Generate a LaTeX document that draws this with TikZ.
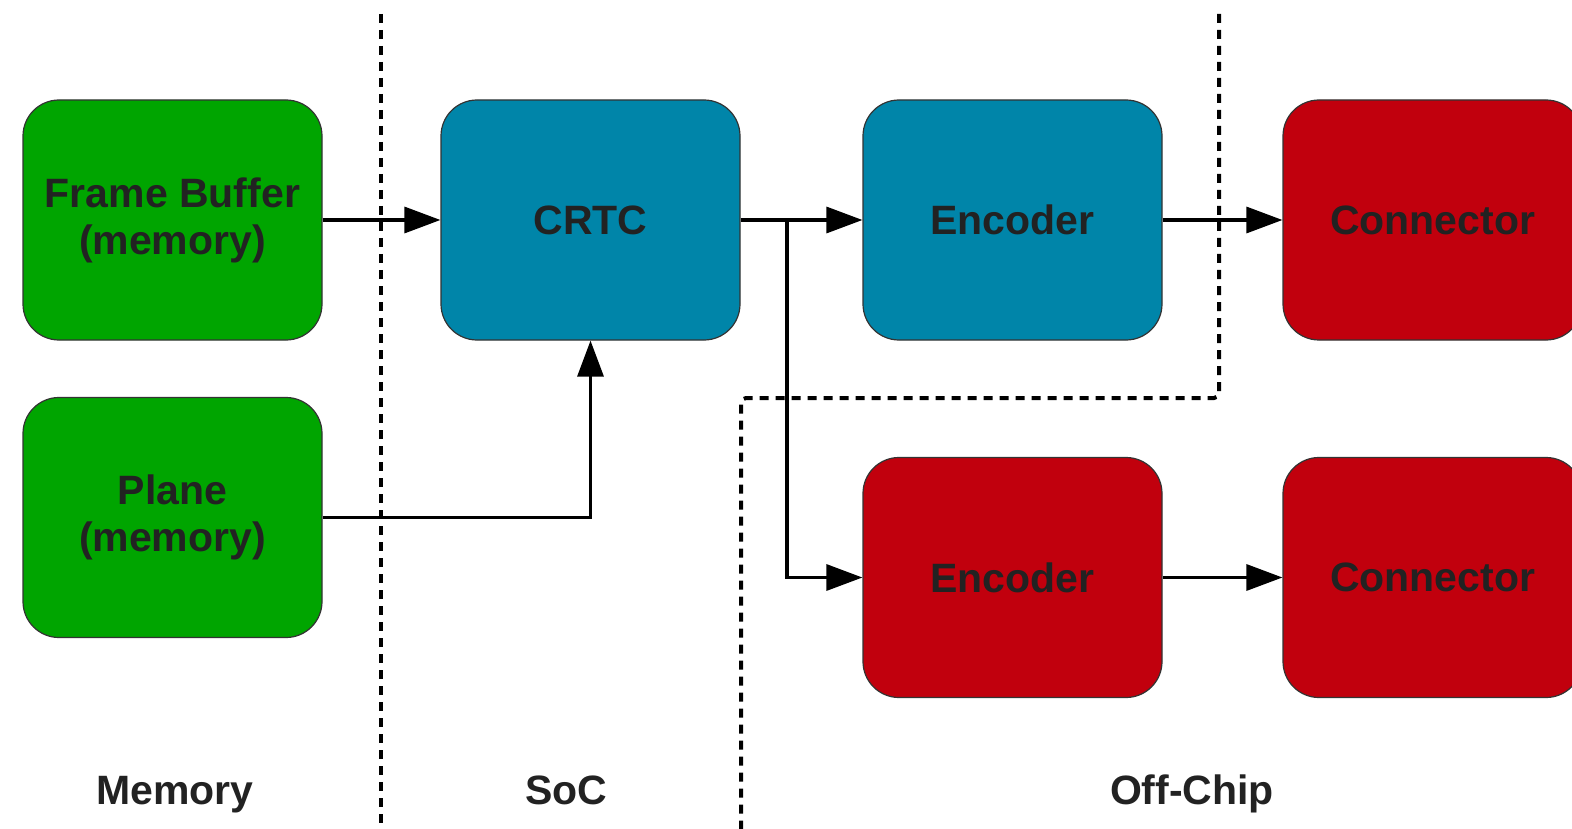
\documentclass[tikz,border=0pt]{standalone}
\usepackage{fontspec}
\setmainfont{Liberation Sans}
\usetikzlibrary{arrows.meta}
\definecolor{cgreen}{HTML}{00A500}
\definecolor{cblue}{HTML}{0085A9}
\definecolor{cred}{HTML}{C1000D}
\definecolor{ctext}{HTML}{222222}
\definecolor{cedge}{HTML}{333333}
\begin{document}
\begin{tikzpicture}[x=1pt,y=-1pt,
  box/.style={rectangle, rounded corners=36pt, minimum width=299pt, minimum height=240pt,
    draw=cedge, line width=1.2pt, text=ctext, align=center,
    font=\fontsize{41}{47}\selectfont\bfseries, inner sep=0pt},
  arr/.style={line width=3.2pt, -{Triangle[length=36pt,width=26pt]}},
  sep/.style={line width=4pt, dash pattern=on 9pt off 7pt},
  lbl/.style={text=ctext, font=\fontsize{41}{47}\selectfont\bfseries, inner sep=0pt, anchor=base}]
\useasboundingbox (0,0) rectangle (1572,829);
\clip (0,0) rectangle (1572,829);
% separators
\coordinate (d1t) at (381,14);
\coordinate (d1b) at (381,829);
\coordinate (d2t) at (1219,14);
\coordinate (d2c) at (1219,398);
\coordinate (d2d) at (741,398);
\coordinate (d2b) at (741,829);
\draw[sep] (d1t) -- (d1b);
\draw[sep, rounded corners=5pt] (d2t) -- (d2c) -- (d2d) -- (d2b);
% boxes
\node[box, fill=cgreen] (fb) at (172.5,220) {Frame Buffer\\(memory)};
\node[box, fill=cgreen] (plane) at (172.5,517.5) {Plane\\(memory)};
\node[box, fill=cblue] (crtc) at (590.5,220) {CRTC};
\node[box, fill=cblue] (enc1) at (1012.5,220) {Encoder};
\node[box, fill=cred] (enc2) at (1012.5,577.5) {Encoder};
\node[box, fill=cred] (conn1) at (1432.5,220) {Connector};
\node[box, fill=cred] (conn2) at (1432.5,577.5) {Connector};
% arrows
\coordinate (br) at (787,220);
\draw[arr] (fb.east) -- (crtc.west);
\draw[arr] (crtc.east) -- (enc1.west);
\draw[arr] (br) |- (enc2.west);
\draw[arr] (enc1.east) -- (conn1.west);
\draw[arr] (enc2.east) -- (conn2.west);
\draw[arr] (plane.east) -| (crtc.south);
% labels
\node[lbl] (lmem) at (175,804) {Memory};
\node[lbl] (lsoc) at (566,804) {SoC};
\node[lbl] (loff) at (1192,804) {Off-Chip};
\end{tikzpicture}
\end{document}
